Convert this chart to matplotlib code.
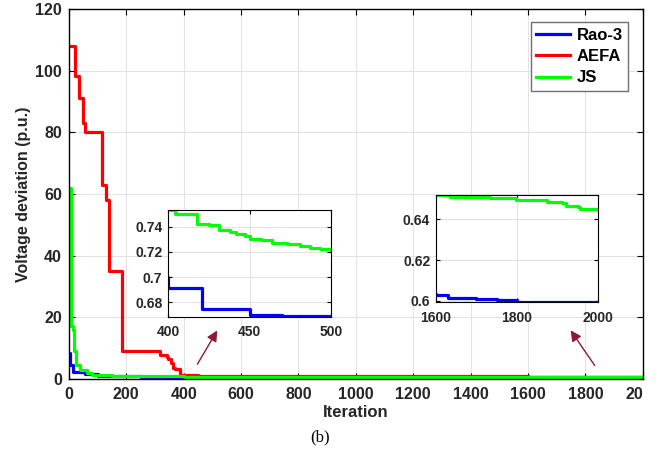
import matplotlib
matplotlib.use('Agg')
import matplotlib.pyplot as plt
from matplotlib.ticker import FormatStrFormatter
from matplotlib.transforms import Bbox

plt.rcParams['font.family'] = ['Liberation Sans', 'DejaVu Sans']
plt.rcParams['font.weight'] = 'bold'

# convergence curves, breakpoints (step curves)
rao_iter = [0, 3, 15, 55, 100, 150, 250, 350, 400, 421, 450, 470, 600, 800,
            1000, 1200, 1400, 1600, 1630, 1700, 1750, 1800, 2000]
rao_val = [8.3, 4.5, 2.4, 1.6, 1.0, 0.85, 0.75, 0.70, 0.691, 0.6746, 0.6697, 0.6687,
           0.655, 0.64, 0.625, 0.613, 0.6035, 0.6026, 0.6015, 0.6008, 0.6003, 0.5995, 0.5995]

aefa_iter = [0, 21, 34, 50, 58, 114, 129, 141, 184, 318, 341, 347, 355, 362, 370,
             387, 450, 600, 800, 1200, 1600, 2000]
aefa_val = [108, 98.3, 91.2, 83, 80, 63, 58, 35, 9.1, 7.8, 7.0, 6.4, 5.3, 3.5, 3.2,
            1.3, 1.1, 0.95, 0.85, 0.8, 0.75, 0.72]

js_iter = [0, 8, 15, 18, 24, 38, 62, 79, 150, 250, 350, 401, 404, 418, 425, 431, 438,
           442, 447, 450, 457, 464, 473, 481, 487, 493, 500, 700, 900, 1100, 1300,
           1500, 1600, 1635, 1734, 1799, 1873, 1910, 1922, 1951, 1956, 2000]
js_val = [62, 17, 16, 9, 4.5, 3, 2, 1.2, 0.95, 0.85, 0.78, 0.7533, 0.7498, 0.7418,
          0.7413, 0.7374, 0.736, 0.7342, 0.7326, 0.730, 0.7294, 0.7273, 0.726, 0.7249,
          0.7233, 0.722, 0.7214, 0.70, 0.685, 0.672, 0.663, 0.656, 0.652, 0.6511,
          0.6503, 0.6495, 0.6487, 0.6479, 0.6467, 0.6462, 0.6449, 0.6446]

series = [('Rao-3', rao_iter, rao_val, '#0000ff'),
          ('AEFA', aefa_iter, aefa_val, '#ff0000'),
          ('JS', js_iter, js_val, '#00ff00')]

txt = '#262626'
fig = plt.figure(figsize=(6.62, 4.5), dpi=100)
ax = fig.add_axes([0.104, 0.158, 0.867, 0.822])

for name, x, y, c in series:
    ax.plot(x, y, color=c, lw=2.3, drawstyle='steps-post', label=name)

ax.set_xlim(0, 2000)
ax.set_ylim(0, 120)
ax.set_xticks(range(0, 2001, 200))
ax.set_yticks(range(0, 121, 20))
ax.grid(True, color='#e3e3e3', lw=0.8)
ax.tick_params(direction='in', top=True, right=True, length=4, width=0.8,
               labelsize=11.5, labelcolor=txt, pad=6)
ax.tick_params(axis='y', pad=5)
for s in ax.spines.values():
    s.set_linewidth(1.0)
ax.set_xlabel('Iteration', fontsize=12, fontweight='bold', color=txt, labelpad=2)
ax.set_ylabel('Voltage deviation (p.u.)', fontsize=11.5, fontweight='bold', color=txt, labelpad=3)

leg = ax.legend(loc='upper right', bbox_to_anchor=(0.975, 0.965), fontsize=12,
                handlelength=2.0, fancybox=False, framealpha=1, borderpad=0.35,
                labelspacing=0.38, handletextpad=0.4, borderaxespad=0)
leg.get_frame().set_edgecolor('#707070')
leg.get_frame().set_linewidth(1.0)
for t in leg.get_texts():
    t.set_fontweight('bold')

# last tick label is cut at the right edge in the original
last = ax.xaxis.get_major_ticks()[-1].label1
last.set_clip_on(True)
last.set_clip_box(Bbox.from_extents(0, 0, 643, 450))

# insets
def make_inset(rect, xlim, ylim, xt, yt):
    a = fig.add_axes(rect)
    for name, x, y, c in series:
        a.plot(x, y, color=c, lw=2.3, drawstyle='steps-post')
    a.set_xlim(*xlim)
    a.set_ylim(*ylim)
    a.set_xticks(xt)
    a.set_yticks(yt)
    a.yaxis.set_major_formatter(FormatStrFormatter('%g'))
    a.grid(True, color='#e3e3e3', lw=0.8)
    a.tick_params(direction='in', top=True, right=True, length=3, width=0.8,
                  labelsize=10, labelcolor=txt, pad=6)
    a.tick_params(axis='y', pad=4)
    return a

make_inset([0.2538, 0.2956, 0.2462, 0.2378], (400, 500), (0.6683, 0.7533),
           [400, 450, 500], [0.68, 0.70, 0.72, 0.74])
make_inset([0.6582, 0.3282, 0.2452, 0.2384], (1600, 2000), (0.5992, 0.652),
           [1600, 1800, 2000], [0.60, 0.62, 0.64])

arrow_col = '#8b1a35'
ax.annotate('', xy=(522, 16.5), xytext=(443, 4.0),
            arrowprops=dict(arrowstyle='-|>', color=arrow_col, lw=1, mutation_scale=16))
ax.annotate('', xy=(1743, 16.5), xytext=(1838, 3.6),
            arrowprops=dict(arrowstyle='-|>', color=arrow_col, lw=1, mutation_scale=16))

fig.text(320 / 662, 1 - 437 / 450, '(b)', family='Liberation Serif', fontweight='normal',
         fontsize=12, ha='center', va='center', color='black')

fig.savefig('out.png', dpi=100)
